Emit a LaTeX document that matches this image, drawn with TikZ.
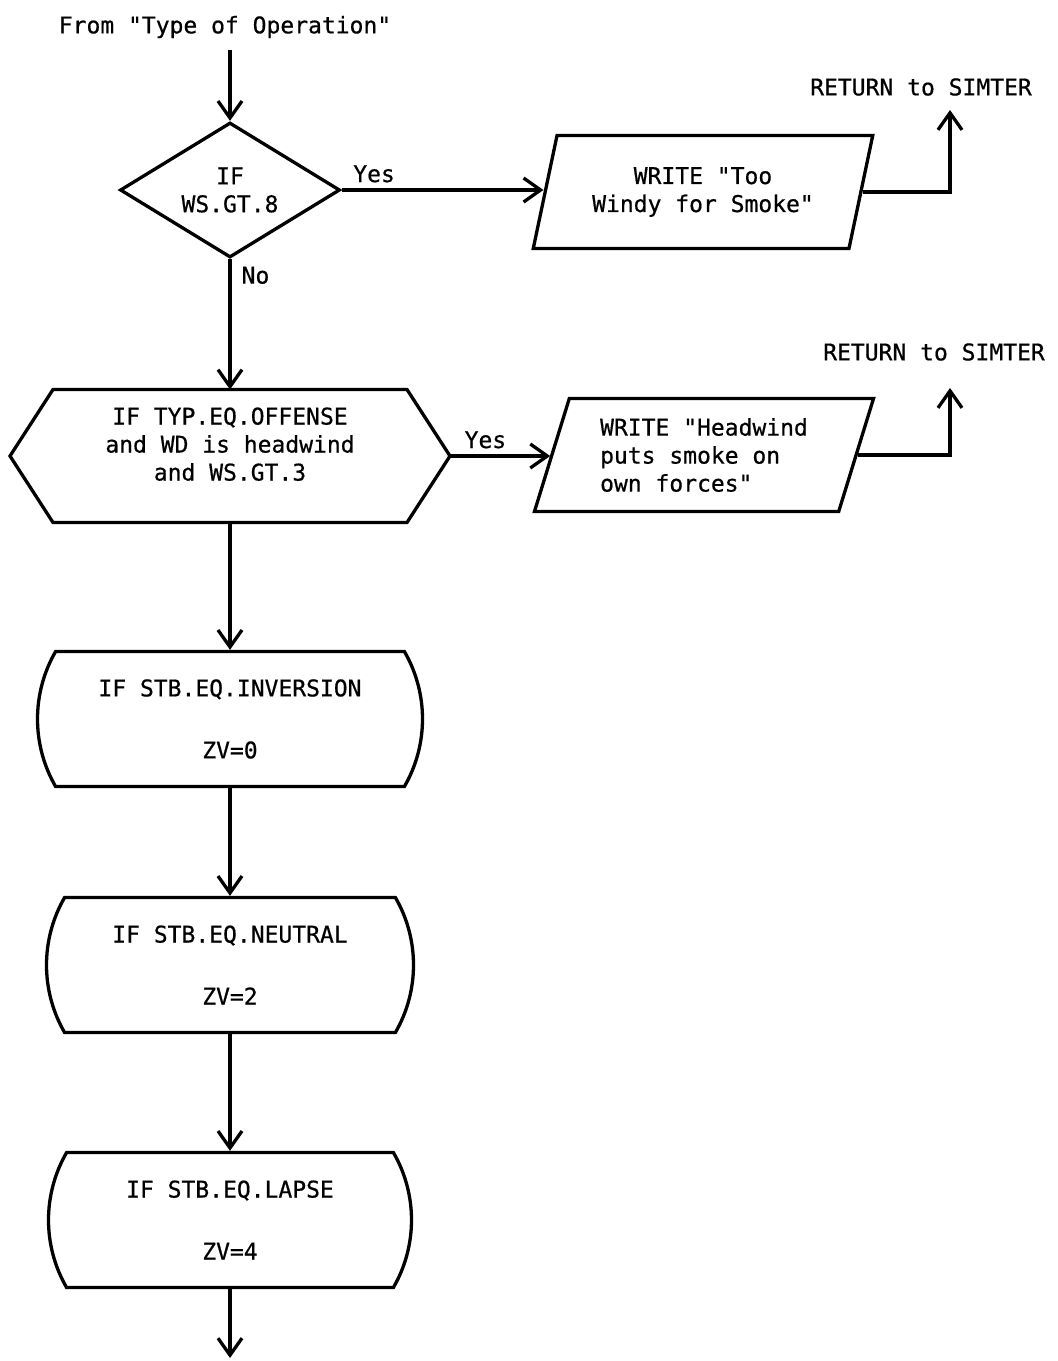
\documentclass[tikz,border=0pt]{standalone}
\usepackage{fontspec}
\newfontfamily\typefont[FakeBold=0.6]{DejaVu Sans Mono}
\usetikzlibrary{shapes.geometric,shapes.misc,arrows.meta}

\begin{document}
\begin{tikzpicture}[x=1pt, y=-1pt, line width=3.3pt,
        every node/.style={font=\typefont\fontsize{23}{28}\selectfont, inner sep=0pt, align=center},
        flow/.style={-{Straight Barb[length=17pt,width=24pt]}},
        test/.style={diamond, draw, aspect=1.6, minimum width=220pt, minimum height=135pt},
        writebox/.style={trapezium, draw, trapezium left angle=70, trapezium right angle=110,
            trapezium stretches=true, minimum width=340pt, minimum height=113pt},
        stbbox/.style={rounded rectangle, draw, rounded rectangle arc length=60, minimum height=135pt},
        hexbox/.style={minimum width=440pt, minimum height=133pt, outer sep=0pt},
        answer/.style={inner sep=6pt}]
        \useasboundingbox (0,0) rectangle (1058,1361);

        \node (src) at (225,27) {From "Type of Operation"};
        \coordinate (entry) at (230,50);
        \node[test] (wind) at (230,190) {IF\\WS.GT.8};
        \node[writebox] (windy) at (703,192) {WRITE "Too\\Windy for Smoke"};
        \node (simter1) at (921,87) {RETURN to SIMTER};
        \coordinate (ret1) at (950,110);

        \node[hexbox] (hexa) at (230,456) {IF TYP.EQ.OFFENSE\\and WD is headwind\\and WS.GT.3\\[-4pt]\mbox{}};
        \draw ([xshift=43pt]hexa.north west) -- ([xshift=-43pt]hexa.north east) -- (hexa.east)
            -- ([xshift=-43pt]hexa.south east) -- ([xshift=43pt]hexa.south west) -- (hexa.west) -- cycle;
        \node[writebox, align=left] (head) at (704,455) {WRITE "Headwind\\puts smoke on\\own forces"};
        \node (simter2) at (934,352) {RETURN to SIMTER};
        \coordinate (ret2) at (950,388);

        \foreach \name/\y/\w/\cond/\zv in {inv/719/385/INVERSION/0, neu/965/367/NEUTRAL/2, lap/1220/363/LAPSE/4} {
            \node[stbbox, minimum width=\w pt] (\name) at (230,\y) {IF STB.EQ.\cond\\[34pt]ZV=\zv};
        }
        \coordinate (exit) at (230,1358);

        \draw[flow] (entry) -- (wind.north);
        \draw[flow] (wind.east) -- node[answer, anchor=south west, pos=0, xshift=4pt] {Yes} (wind.east -| windy.west);
        \draw[flow] (windy.east) -| (ret1);
        \draw[flow] (wind.south) -- node[answer, anchor=north west, pos=0, xshift=4pt] {No} (hexa.north);
        \draw[flow] (hexa.east) -- node[answer, anchor=south west, pos=0, xshift=7pt] {Yes} (hexa.east -| head.west);
        \draw[flow] (head.east) -| (ret2);
        \foreach \a/\b in {hexa/inv, inv/neu, neu/lap} {
            \draw[flow] (\a.south) -- (\b.north);
        }
        \draw[flow] (lap.south) -- (exit);
    \end{tikzpicture}
\end{document}
